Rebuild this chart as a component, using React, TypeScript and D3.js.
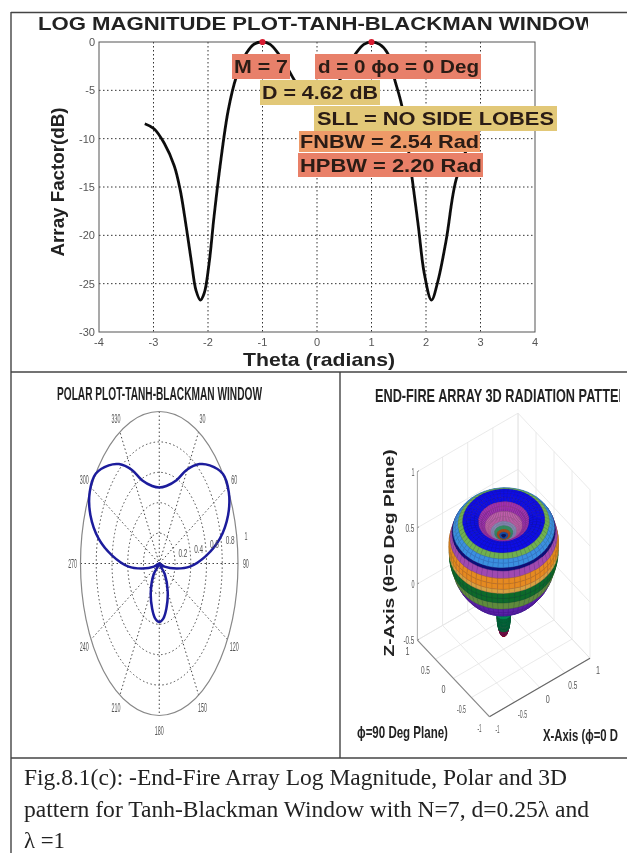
import React, { useLayoutEffect, useRef } from "react";
import * as d3 from "d3";

// log magnitude curve
const thetaValues = [-3.16, -2.99, -2.8, -2.62, -2.51, -2.4, -2.3, -2.22, -2.14, -2.07, -1.98, -1.89, -1.78, -1.63, -1.48, -1.3, -1.15, -1.0, -0.86, -0.71, -0.57, -0.42, -0.25, 0, 0.25, 0.42, 0.57, 0.71, 0.86, 1.0, 1.15, 1.3, 1.42, 1.56, 1.75, 1.86, 1.97, 2.1, 2.22, 2.37, 2.55, 2.8, 2.99, 3.16];
const dbValues = [-8.45, -8.97, -10.5, -12.8, -15.3, -19.1, -22.9, -25.7, -26.7, -26, -22.9, -18.1, -12.9, -7.1, -3.6, -1.2, -0.2, 0, -0.25, -1.2, -2.4, -3.9, -5.2, -6, -5.2, -3.9, -2.4, -1.2, -0.25, 0, -0.25, -1.2, -3.8, -6.7, -14.3, -19.1, -24, -26.7, -24.7, -20.5, -14.3, -10.5, -8.97, -8.45];
const peakThetas = [-1, 1];
const logXTicks = [-4, -3, -2, -1, 0, 1, 2, 3, 4];
const logYTicks = [0, -5, -10, -15, -20, -25, -30];

const labelTexts = ["M = 7", "d = 0 \u03d5o = 0 Deg", "D = 4.62 dB", "SLL = NO SIDE LOBES", "FNBW = 2.54 Rad", "HPBW = 2.20 Rad"];
const labelColors = ["#e8806a", "#e8806a", "#e2c878", "#e2c878", "#ee9a68", "#e98068"];
const labelBoxes = [[232, 54, 58, 25], [315, 54, 166, 25], [260, 80, 120, 25], [314, 106, 243, 25], [299, 131, 181, 21], [298, 153, 185, 24]];
const labelInk = [[234, 288], [318, 479], [262, 378], [317, 554], [300, 479], [300, 482]];

// polar pattern, half of the symmetric lobe, degrees from the top
const polarAngles = [0, 10, 21.8, 29.4, 38, 44.8, 53.8, 62, 70, 78, 85, 93, 98.5, 107, 121, 135, 150, 163, 172, 180];
const polarR = [0.5, 0.518, 0.59, 0.706, 0.83, 0.91, 1, 1, 0.93, 0.787, 0.6, 0.39, 0.22, 0.07, 0, 0.1, 0.215, 0.31, 0.366, 0.385];
const polarRings = [0.2, 0.4, 0.6, 0.8];
const polarSpokes = [0, 30, 60, 90, 120, 150];
const polarLabels = [30, 60, 90, 120, 150, 180, 210, 240, 270, 300, 330];

// 3D surface colour bands, by degrees from the top
const bandEdges = [0, 4, 8, 12, 16, 21, 27, 33, 46, 50, 55, 56.5, 60, 65, 67, 72, 76, 85, 121, 150, 165, 172, 180];
const bandColors = ["#14206e", "#1f5cb8", "#c2521c", "#3a9a70", "#8f90c4", "#c460b0", "#a030b0", "#0c0ce6", "#6fb050", "#3a8fe0", "#10107a", "#a04ab0", "#e58a20", "#d8a040", "#0d6a2a", "#5f8a3c", "#5a20a8", "#3020c0", "#0a9a60", "#087040", "#801050", "#c01030"];
const axis3dTicks = [-1, -0.5, 0, 0.5, 1];
const zTicks = [-0.5, 0, 0.5, 1];

const captionLines = ["Fig.8.1(c): -End-Fire Array Log Magnitude, Polar and 3D", "pattern for Tanh-Blackman Window with N=7, d=0.25\u03bb and", "\u03bb =1"];

const SANS = "'Liberation Sans', Arial, sans-serif";

// the scanned labels are squeezed sideways, so scale the glyphs to the width they have there
function SqueezedText({ x, y, width, size, children }: { x: number; y: number; width: number; size: number; children: string }) {
  const ref = useRef<SVGTextElement>(null);
  useLayoutEffect(() => {
    const el = ref.current;
    if (el) el.setAttribute("transform", `translate(${x},${y}) scale(${width / el.getComputedTextLength()},1)`);
  }, [x, y, width]);
  return (
    <text ref={ref} fontFamily={SANS} fontWeight="bold" fontSize={size} fill="#222">{children}</text>
  );
}

function LogPlot() {
  const x = d3.scaleLinear().domain([-4, 4]).range([99, 535]);
  const y = d3.scaleLinear().domain([-30, 0]).range([332, 42]);
  const line = d3
    .line<number>()
    .x(d => x(d))
    .y((_, i) => y(dbValues[i]))
    .curve(d3.curveCatmullRom);
  return (
    <g filter="url(#blurA)">
      <defs>
        <clipPath id="titleClip"><rect x={30} y={10} width={558} height={30} /></clipPath>
      </defs>
      <text clipPath="url(#titleClip)" x={38} y={30} fontFamily={SANS} fontWeight="bold" fontSize={17.5} textLength={558} lengthAdjust="spacingAndGlyphs" fill="#222">LOG MAGNITUDE PLOT-TANH-BLACKMAN WINDOW</text>
      {logXTicks.slice(1, -1).map(t => (
        <line key={t} x1={x(t)} x2={x(t)} y1={y(0)} y2={y(-30)} stroke="#333" strokeDasharray="1.5 2.5" />
      ))}
      {logYTicks.slice(1, -1).map(t => (
        <line key={t} x1={x(-4)} x2={x(4)} y1={y(t)} y2={y(t)} stroke="#333" strokeDasharray="1.5 2.5" />
      ))}
      <rect x={x(-4)} y={y(0)} width={x(4) - x(-4)} height={y(-30) - y(0)} fill="none" stroke="#555" />
      {logXTicks.map(t => (
        <text key={t} x={x(t)} y={346} textAnchor="middle" fontFamily={SANS} fontSize={11} fill="#555">{t}</text>
      ))}
      {logYTicks.map(t => (
        <text key={t} x={95} y={y(t) + 4} textAnchor="end" fontFamily={SANS} fontSize={11} fill="#555">{t}</text>
      ))}
      <path d={line(thetaValues) ?? ""} fill="none" stroke="#111" strokeWidth={2.8} />
      {peakThetas.map(t => (
        <path key={t} transform={`translate(${x(t)},${y(0)})`} d={d3.symbol(d3.symbolCircle, 30)() ?? ""} fill="#d81f30" />
      ))}
      {labelTexts.map((s, i) => {
        const [bx, by, bw, bh] = labelBoxes[i];
        return (
          <g key={s}>
            <rect x={bx} y={by} width={bw} height={bh} fill={labelColors[i]} />
            <text x={labelInk[i][0]} y={by + bh / 2 + 6.5} fontFamily={SANS} fontWeight="bold" fontSize={19} textLength={labelInk[i][1] - labelInk[i][0]} lengthAdjust="spacingAndGlyphs" fill="#2a1a12">{s}</text>
          </g>
        );
      })}
      <text transform="translate(64,182) rotate(-90)" textAnchor="middle" fontFamily={SANS} fontWeight="bold" fontSize={18} textLength={149} lengthAdjust="spacingAndGlyphs" fill="#222">Array Factor(dB)</text>
      <text x={243} y={366} fontFamily={SANS} fontWeight="bold" fontSize={19} textLength={152} lengthAdjust="spacingAndGlyphs" fill="#222">Theta (radians)</text>
    </g>
  );
}

function PolarPlot() {
  const px = d3.scaleLinear().domain([-1, 1]).range([80.5, 238]);
  const py = d3.scaleLinear().domain([-1, 1]).range([715.5, 411.5]);
  const rad = (a: number) => (a * Math.PI) / 180;
  const allAngles = [...polarAngles, ...polarAngles.slice(1, -1).reverse().map(a => 360 - a)];
  const allR = [...polarR, ...polarR.slice(1, -1).reverse()];
  const curve = d3
    .line<number>()
    .x((a, i) => px(allR[i] * Math.sin(rad(a))))
    .y((a, i) => py(allR[i] * Math.cos(rad(a))))
    .curve(d3.curveCatmullRomClosed);
  return (
    <g filter="url(#blurB)">
      <SqueezedText x={57} y={400} width={205} size={18}>POLAR PLOT-TANH-BLACKMAN WINDOW</SqueezedText>
      {polarRings.map(r => (
        <ellipse key={r} cx={px(0)} cy={py(0)} rx={px(r) - px(0)} ry={py(0) - py(r)} fill="none" stroke="#444" strokeDasharray="1.5 2.5" />
      ))}
      {polarSpokes.map(a => (
        <line key={a} x1={px(Math.sin(rad(a)))} y1={py(Math.cos(rad(a)))} x2={px(-Math.sin(rad(a)))} y2={py(-Math.cos(rad(a)))} stroke="#444" strokeDasharray="1.5 2.5" />
      ))}
      <ellipse cx={px(0)} cy={py(0)} rx={px(1) - px(0)} ry={py(0) - py(1)} fill="none" stroke="#888" strokeWidth={1.2} />
      <path d={curve(allAngles) ?? ""} fill="none" stroke="#1c1c9c" strokeWidth={2.5} />
      {polarLabels.map(a => (
        <text key={a} x={px(1.1 * Math.sin(rad(a)))} y={py(1.1 * Math.cos(rad(a))) + 4} textAnchor="middle" fontFamily={SANS} fontSize={12} textLength={3 * String(a).length} lengthAdjust="spacingAndGlyphs" fill="#555">{a}</text>
      ))}
      {[...polarRings, 1].map((r, i) => (
        <text key={r} x={px(r + 0.1)} y={py(0.07 + i * 0.028) + 4} textAnchor="middle" fontFamily={SANS} fontSize={11} textLength={r === 1 ? 3 : 9} lengthAdjust="spacingAndGlyphs" fill="#555">{r}</text>
      ))}
    </g>
  );
}

function Pattern3D() {
  const sx = (x: number, y: number) => 503.7 + x * 50.3 - y * 36;
  const sy = (x: number, y: number, z: number) => 593 - x * 29.2 - y * 38.3 - z * 112.3;
  const rOf = d3.scaleLinear().domain(polarAngles).range(polarR);
  const rad = (a: number) => (a * Math.PI) / 180;
  const phis = d3.range(0, 360, 6);

  const point = (t: number, p: number) => {
    const r = rOf(t);
    return [r * Math.sin(rad(t)) * Math.cos(rad(p)), r * Math.sin(rad(t)) * Math.sin(rad(p)), r * Math.cos(rad(t))];
  };
  const quads: { d: string; depth: number; fill: string }[] = [];
  bandColors.forEach((fill, b) => {
    const lo = bandEdges[b];
    const hi = bandEdges[b + 1];
    const steps = Math.max(1, Math.ceil((hi - lo) / 4));
    const ts = d3.range(steps + 1).map(i => lo + ((hi - lo) * i) / steps);
    ts.slice(0, -1).forEach((t, i) => {
      phis.forEach(p => {
        const c = [point(t, p), point(ts[i + 1], p), point(ts[i + 1], p + 6), point(t, p + 6)];
        const d = "M" + c.map(q => `${sx(q[0], q[1]).toFixed(1)},${sy(q[0], q[1], q[2]).toFixed(1)}`).join("L") + "Z";
        const m = [d3.mean(c, q => q[0])!, d3.mean(c, q => q[1])!, d3.mean(c, q => q[2])!];
        quads.push({ d, fill, depth: -36396 * m[0] - 50887 * m[1] + 26815 * m[2] });
      });
    });
  });
  quads.sort((a, b) => a.depth - b.depth);

  const pale = "#e4e4e4";
  const seg = (a: number[], b: number[], stroke: string, key: string, w = 0.8) => (
    <line key={key} x1={sx(a[0], a[1])} y1={sy(a[0], a[1], a[2])} x2={sx(b[0], b[1])} y2={sy(b[0], b[1], b[2])} stroke={stroke} strokeWidth={w} />
  );
  const tickText = (t: number) => (t === 0.5 ? "0.5" : t === -0.5 ? "-0.5" : String(t));
  return (
    <g filter="url(#blurB)">
      <defs>
        <clipPath id="clip3d"><rect x={342} y={376} width={278} height={380} /></clipPath>
      </defs>
      <g clipPath="url(#clip3d)">
        <SqueezedText x={375} y={402} width={262} size={18}>END-FIRE ARRAY 3D RADIATION PATTERN</SqueezedText>
      </g>
      {axis3dTicks.map(t => (
        <g key={t}>
          {seg([t, -1, -0.5], [t, 1, -0.5], pale, `fx${t}`)}
          {seg([-1, t, -0.5], [1, t, -0.5], pale, `fy${t}`)}
          {seg([t, 1, -0.5], [t, 1, 1], pale, `wx${t}`)}
          {seg([1, t, -0.5], [1, t, 1], pale, `wy${t}`)}
        </g>
      ))}
      {zTicks.map(z => (
        <g key={z}>
          {seg([-1, 1, z], [1, 1, z], pale, `zx${z}`)}
          {seg([1, 1, z], [1, -1, z], pale, `zy${z}`)}
          {seg([-1, 1, z], [-0.97, 1, z], "#666", `zt${z}`)}
          <text x={sx(-1, 1) - 3} y={sy(-1, 1, z) + 4} textAnchor="end" fontFamily={SANS} fontSize={11} textLength={z === 0 || z === 1 ? 3 : z < 0 ? 11 : 9} lengthAdjust="spacingAndGlyphs" fill="#555">{tickText(z)}</text>
        </g>
      ))}
      {seg([-1, 1, -0.5], [-1, 1, 1], "#999", "zaxis")}
      {seg([-1, -1, -0.5], [1, -1, -0.5], "#666", "xaxis", 1.2)}
      {seg([-1, -1, -0.5], [-1, 1, -0.5], "#888", "yaxis", 1.2)}
      {quads.map((q, i) => (
        <path key={i} d={q.d} fill={q.fill} stroke={d3.color(q.fill)?.darker(0.6).formatHex()} strokeWidth={0.4} />
      ))}
      {axis3dTicks.map(t => (
        <g key={t}>
          <text x={sx(t, -1) + 8} y={sy(t, -1, -0.5) + 16} textAnchor="middle" fontFamily={SANS} fontSize={11} textLength={t === 0 || Math.abs(t) === 1 ? 4 : 9} lengthAdjust="spacingAndGlyphs" fill="#555">{tickText(t)}</text>
          <text x={sx(-1, t) - 10} y={sy(-1, t, -0.5) + 15} textAnchor="middle" fontFamily={SANS} fontSize={11} textLength={t === 0 || Math.abs(t) === 1 ? 4 : 9} lengthAdjust="spacingAndGlyphs" fill="#555">{tickText(t)}</text>
        </g>
      ))}
      <text transform="translate(394,553) rotate(-90)" textAnchor="middle" fontFamily={SANS} fontWeight="bold" fontSize={15} textLength={207} lengthAdjust="spacingAndGlyphs" fill="#222">{"Z-Axis (\u03b8=0 Deg Plane)"}</text>
      <SqueezedText x={357} y={738} width={91} size={17}>{"\u03d5=90 Deg Plane)"}</SqueezedText>
      <SqueezedText x={543} y={741} width={75} size={17}>{"X-Axis (\u03d5=0 D"}</SqueezedText>
    </g>
  );
}

export default function App() {
  return (
    <svg width={627} height={853} style={{ position: "fixed", left: 0, top: 0, background: "#fff" }}>
      <defs>
        <filter id="blurA"><feGaussianBlur stdDeviation={0.45} /></filter>
        <filter id="blurB"><feGaussianBlur stdDeviation={0.75} /></filter>
      </defs>
      <LogPlot />
      <PolarPlot />
      <Pattern3D />
      <g stroke="#444" strokeWidth={1.4}>
        <line x1={11} x2={627} y1={12.5} y2={12.5} />
        <line x1={11} x2={627} y1={372} y2={372} />
        <line x1={11} x2={627} y1={758} y2={758} />
        <line x1={11} x2={11} y1={12} y2={853} />
        <line x1={340} x2={340} y1={372} y2={758} />
      </g>
      <g filter="url(#blurA)">
        {captionLines.map((s, i) => (
          <text key={s} x={24} y={[785, 817, 848][i]} fontFamily="'Liberation Serif', 'Times New Roman', serif" fontSize={23} textLength={[543, 565, 41][i]} lengthAdjust="spacingAndGlyphs" fill="#222">{s}</text>
        ))}
      </g>
    </svg>
  );
}
